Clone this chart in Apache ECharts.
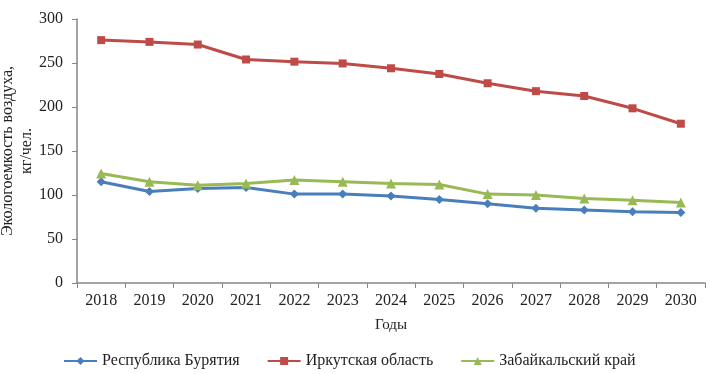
<!DOCTYPE html>
<html>
<head>
<meta charset="utf-8">
<title>Экологоемкость воздуха</title>
<script src="https://cdn.jsdelivr.net/npm/echarts@6/dist/echarts.min.js"></script>
<style>
  html, body { margin: 0; padding: 0; background: #fff; }
  #chart { width: 710px; height: 374px; }
</style>
</head>
<body>
<div id="chart"></div>
<script>
  // данные
  var years = ['2018', '2019', '2020', '2021', '2022', '2023', '2024', '2025', '2026', '2027', '2028', '2029', '2030'];
  var buryatia = [115, 104, 107.5, 108.5, 101, 101, 99, 95, 90, 85, 83, 81, 80];
  var irkutsk = [276, 274, 271, 254, 251.5, 249.5, 244, 237.5, 227, 218, 212.5, 198.5, 181];
  var zabaikal = [124.5, 115, 111, 113, 117, 115, 113, 112, 101, 100, 96, 94, 91.5];

  var chart = echarts.init(document.getElementById('chart'));
  var font = 'Liberation Serif';

  var option = {
    textStyle: { fontFamily: font },
    grid: { left: 77, right: 5, top: 19, bottom: 91, outerBoundsMode: 'none', containLabel: false },
    legend: {
      top: 348,
      left: 58,
      itemWidth: 33,
      itemHeight: 10,
      itemGap: 27,
      textStyle: { fontFamily: font, fontSize: 16, color: '#222' },
      data: ['Республика Бурятия', 'Иркутская область', 'Забайкальский край']
    },
    xAxis: {
      type: 'category',
      data: years,
      boundaryGap: true,
      name: 'Годы',
      nameLocation: 'middle',
      nameGap: 35,
      nameMoveOverlap: false,
      nameTextStyle: { fontFamily: font, fontSize: 15, color: '#222' },
      axisLine: { lineStyle: { color: '#868686', width: 1.5 } },
      axisTick: { show: true, alignWithLabel: false, length: 5, lineStyle: { color: '#868686' } },
      axisLabel: { fontFamily: font, fontSize: 16, color: '#222', margin: 10 }
    },
    yAxis: {
      type: 'value',
      min: 0,
      max: 300,
      interval: 50,
      name: 'Экологоемкость воздуха,\nкг/чел.',
      nameLocation: 'middle',
      nameRotate: 90,
      nameGap: 41,
      nameMoveOverlap: false,
      nameTextStyle: { fontFamily: font, fontSize: 16, color: '#222', lineHeight: 19 },
      axisLine: { show: true, lineStyle: { color: '#868686', width: 1.5 } },
      axisTick: { show: true, length: 5, lineStyle: { color: '#868686' } },
      splitLine: { show: false },
      axisLabel: { fontFamily: font, fontSize: 16, color: '#222', margin: 14 }
    },
    series: [{
      name: 'Республика Бурятия',
      type: 'line',
      data: buryatia,
      symbol: 'diamond',
      symbolSize: 9,
      color: '#4a7ebb',
      lineStyle: { width: 3 }
    }, {
      name: 'Иркутская область',
      type: 'line',
      data: irkutsk,
      symbol: 'rect',
      symbolSize: 8,
      color: '#be4b48',
      lineStyle: { width: 3 }
    }, {
      name: 'Забайкальский край',
      type: 'line',
      data: zabaikal,
      symbol: 'triangle',
      symbolSize: 10,
      color: '#98b954',
      lineStyle: { width: 3 }
    }]
  };
  chart.setOption(option);
</script>
</body>
</html>
